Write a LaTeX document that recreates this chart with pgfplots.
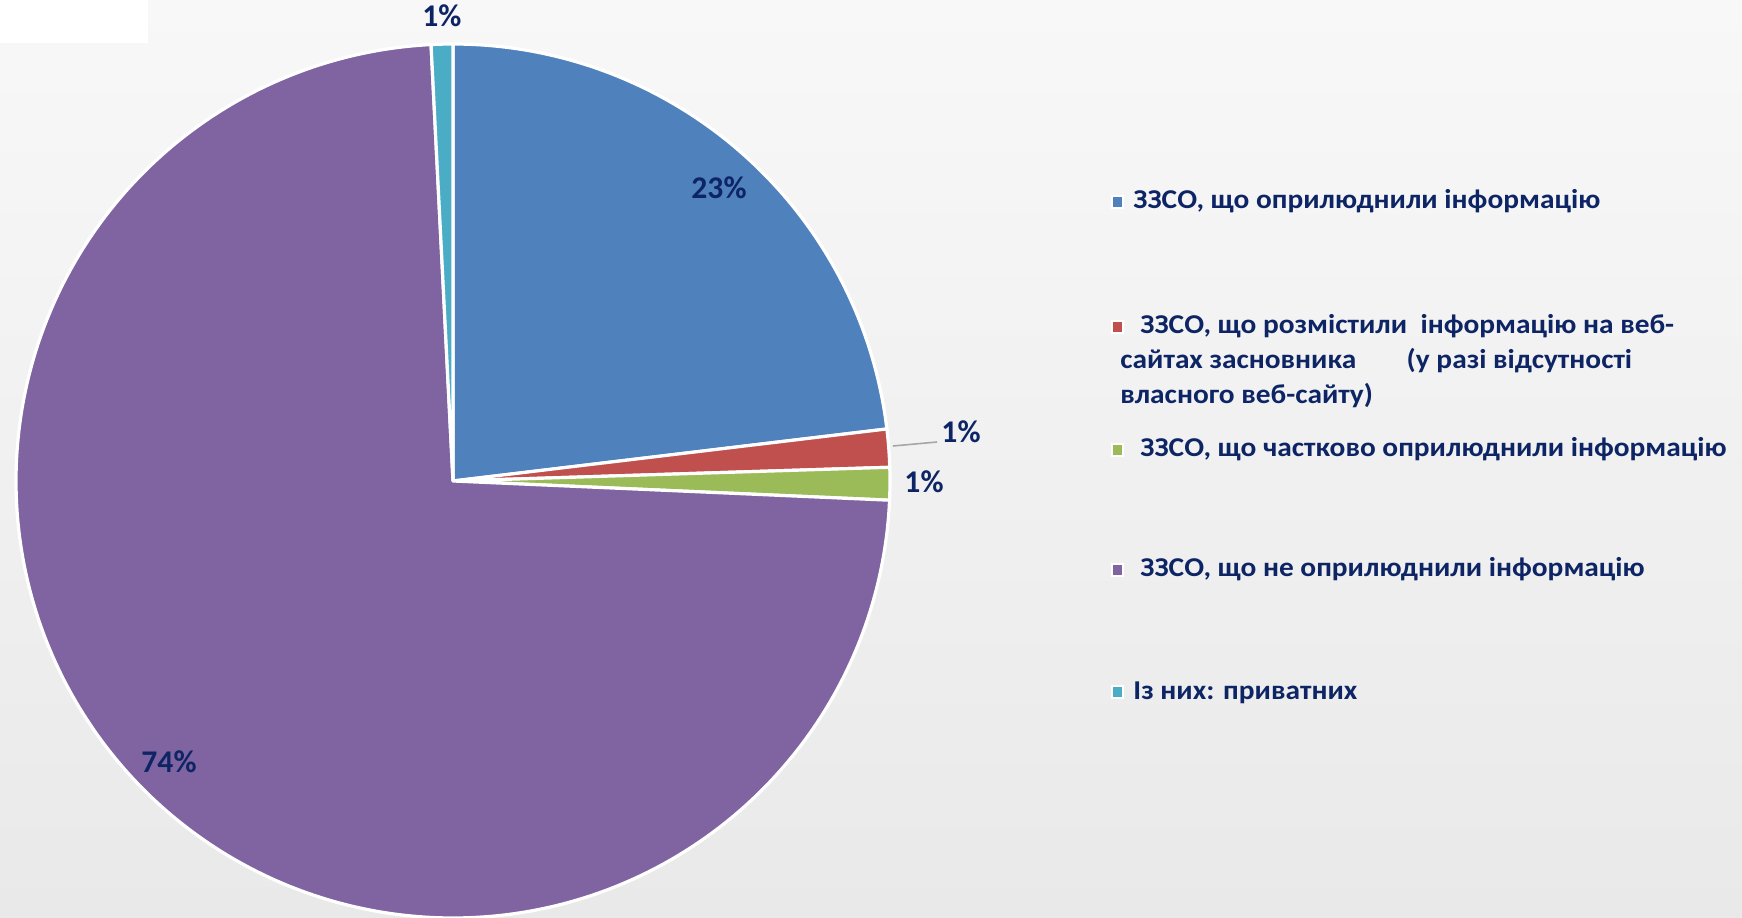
\documentclass[border=0pt]{standalone}
\usepackage{pgfplots}
\pgfplotsset{compat=1.18}
\usepackage{pgfplotstable}
\usepackage{fontspec}
\setmainfont{Carlito}
\newfontfamily\legfont{Carlito}[FakeStretch=1.08]
\definecolor{cBlue}{HTML}{4F81BD}
\definecolor{cRed}{HTML}{C0504D}
\definecolor{cGreen}{HTML}{9BBB59}
\definecolor{cPurple}{HTML}{8064A2}
\definecolor{cCyan}{HTML}{4BACC6}
\definecolor{navy}{HTML}{0E2565}
\definecolor{bgTop}{HTML}{F8F8F8}
\definecolor{bgBot}{HTML}{E9E9E9}
\tikzset{
  lbl/.style={font=\fontsize{15.8pt}{18pt}\selectfont\bfseries, text=navy, inner sep=0pt, anchor=base},
  leg/.style={font=\legfont\fontsize{13.6pt}{16.5pt}\selectfont\bfseries, text=navy, inner sep=0pt, anchor=base west},
  key/.style={draw=white, line width=1pt},
}
\pgfplotsset{slice/.style={draw=white, line width=1.6pt, line join=round, variable=\t}}
\pgfplotstableread{
value
23.1
1.4
1.2
73.5
0.8
}\piedata
\newcommand\getv[2]{\pgfplotstablegetelem{#1}{value}\of\piedata\pgfmathsetmacro#2{\pgfplotsretval}}
\begin{document}
\begin{tikzpicture}
\getv{0}\vA \getv{1}\vB \getv{2}\vC \getv{3}\vD \getv{4}\vE
\pgfmathsetmacro\aA{90}
\pgfmathsetmacro\aB{\aA-3.6*\vA}
\pgfmathsetmacro\aC{\aB-3.6*\vB}
\pgfmathsetmacro\aD{\aC-3.6*\vC}
\pgfmathsetmacro\aE{\aD-3.6*\vD}
\pgfmathsetmacro\aF{\aE-3.6*\vE}
\begin{axis}[at={(0,0)}, anchor=south west, width=871pt, height=458.5pt, scale only axis,
  xmin=0, xmax=1742, ymin=0, ymax=917, hide axis, clip=true]
\shade[top color=bgTop, bottom color=bgBot] (axis cs:0,0) rectangle (axis cs:1742,917);
\fill[white] (axis cs:0,874) rectangle (axis cs:148,917);
% pie slices
\addplot[slice, fill=cBlue, domain=\aB:\aA, samples=120] ({453+437*cos(\t)},{436+437*sin(\t)}) -- (axis cs:453,436) -- cycle;
\addplot[slice, fill=cRed, domain=\aC:\aB, samples=20] ({453+437*cos(\t)},{436+437*sin(\t)}) -- (axis cs:453,436) -- cycle;
\addplot[slice, fill=cGreen, domain=\aD:\aC, samples=20] ({453+437*cos(\t)},{436+437*sin(\t)}) -- (axis cs:453,436) -- cycle;
\addplot[slice, fill=cPurple, domain=\aE:\aD, samples=300] ({453+437*cos(\t)},{436+437*sin(\t)}) -- (axis cs:453,436) -- cycle;
\addplot[slice, fill=cCyan, domain=\aF:\aE, samples=20] ({453+437*cos(\t)},{436+437*sin(\t)}) -- (axis cs:453,436) -- cycle;
% data labels
\node[lbl] at (axis cs:719,718) {23\%};
\node[lbl] at (axis cs:169,145) {74\%};
\node[lbl] at (axis cs:442,890) {1\%};
\node[lbl] at (axis cs:961,474) {1\%};
\node[lbl] at (axis cs:924,424) {1\%};
\draw[color=gray!70, line width=0.8pt] (axis cs:893,471) -- (axis cs:937,475);
% legend
\filldraw[key, fill=cBlue] (axis cs:1112,709) rectangle (axis cs:1123,721);
\node[leg] at (axis cs:1133,708) {ЗЗСО, що оприлюднили інформацію};
\filldraw[key, fill=cRed] (axis cs:1112,584) rectangle (axis cs:1123,596);
\node[leg] at (axis cs:1140,583) {ЗЗСО, що розмістили \ інформацію на веб-};
\node[leg] at (axis cs:1120,548) {сайтах засновника \quad\hspace{5pt}\ (у разі відсутності};
\node[leg] at (axis cs:1120,513) {власного веб-сайту)};
\filldraw[key, fill=cGreen] (axis cs:1112,461) rectangle (axis cs:1123,473);
\node[leg] at (axis cs:1140,460) {ЗЗСО, що частково оприлюднили інформацію};
\filldraw[key, fill=cPurple] (axis cs:1112,341) rectangle (axis cs:1123,353);
\node[leg] at (axis cs:1140,340) {ЗЗСО, що не оприлюднили інформацію};
\filldraw[key, fill=cCyan] (axis cs:1112,219) rectangle (axis cs:1123,231);
\node[leg] at (axis cs:1133,218) {Із них: приватних};
\end{axis}
\end{tikzpicture}
\end{document}
